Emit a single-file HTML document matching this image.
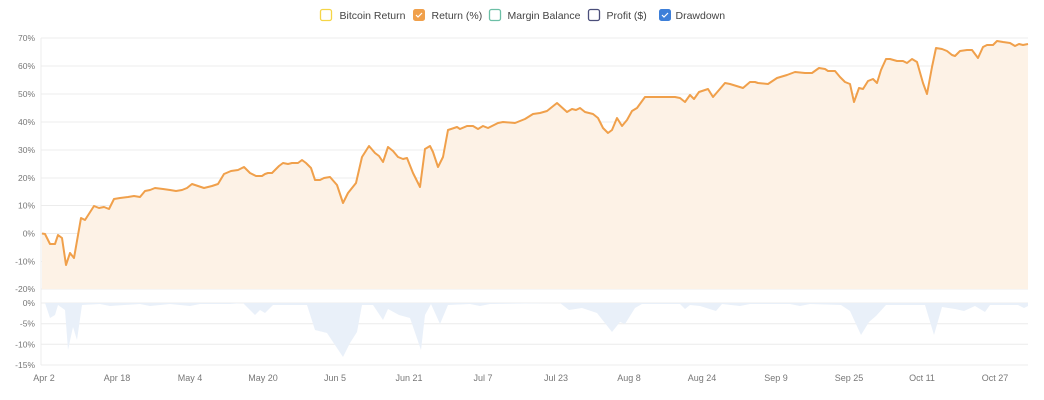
<!DOCTYPE html>
<html><head><meta charset="utf-8"><style>
body{margin:0;background:#fff;}
svg{display:block;font-family:"Liberation Sans",sans-serif;}
</style></head><body>
<svg width="1044" height="400" viewBox="0 0 1044 400">
<!-- legend -->
<g font-size="10.5" fill="#444">
<rect x="320.5" y="9.5" width="11" height="11" rx="2" fill="#fff" stroke="#f5d547" stroke-width="1.3"/>
<text x="339.5" y="19">Bitcoin Return</text>
<rect x="413.5" y="9.5" width="11" height="11" rx="2" fill="#f0a04b" stroke="#f0a04b"/>
<path d="M416 15l2 2 4-4" stroke="#fff" stroke-width="1.2" fill="none"/>
<text x="431.5" y="19">Return (%)</text>
<rect x="489.5" y="9.5" width="11" height="11" rx="2" fill="#fff" stroke="#6cbfa6" stroke-width="1.3"/>
<text x="507.5" y="19">Margin Balance</text>
<rect x="588.5" y="9.5" width="11" height="11" rx="2" fill="#fff" stroke="#4a4e7a" stroke-width="1.3"/>
<text x="606.5" y="19">Profit ($)</text>
<rect x="659.5" y="9.5" width="11" height="11" rx="2" fill="#3d7fd9" stroke="#3d7fd9"/>
<path d="M662 15l2 2 4-4" stroke="#fff" stroke-width="1.2" fill="none"/>
<text x="675.5" y="19">Drawdown</text>
</g>
<!-- grids -->
<g stroke="#ececec" stroke-width="1">
<line x1="41" x2="1028" y1="38" y2="38"/><line x1="41" x2="1028" y1="66" y2="66"/>
<line x1="41" x2="1028" y1="94" y2="94"/><line x1="41" x2="1028" y1="122" y2="122"/>
<line x1="41" x2="1028" y1="150" y2="150"/><line x1="41" x2="1028" y1="178" y2="178"/>
<line x1="41" x2="1028" y1="205.5" y2="205.5"/><line x1="41" x2="1028" y1="233.5" y2="233.5"/>
<line x1="41" x2="1028" y1="261.5" y2="261.5"/><line x1="41" x2="1028" y1="289" y2="289"/>
<line x1="41" x2="1028" y1="303" y2="303"/><line x1="41" x2="1028" y1="323.7" y2="323.7"/>
<line x1="41" x2="1028" y1="344.3" y2="344.3"/><line x1="41" x2="1028" y1="365" y2="365"/>
<line x1="41" x2="41" y1="38" y2="365"/>
</g>
<g font-size="8.5" fill="#777" text-anchor="end">
<text x="35" y="41">70%</text><text x="35" y="69">60%</text><text x="35" y="97">50%</text>
<text x="35" y="125">40%</text><text x="35" y="153">30%</text><text x="35" y="181">20%</text>
<text x="35" y="208.5">10%</text><text x="35" y="236.5">0%</text><text x="35" y="264.5">-10%</text>
<text x="35" y="292">-20%</text>
<text x="35" y="306">0%</text><text x="35" y="326.7">-5%</text><text x="35" y="347.3">-10%</text><text x="35" y="368">-15%</text>
</g>
<g font-size="9" fill="#777" text-anchor="middle">
<text x="44" y="381">Apr 2</text><text x="117" y="381">Apr 18</text><text x="190" y="381">May 4</text>
<text x="263" y="381">May 20</text><text x="335" y="381">Jun 5</text><text x="409" y="381">Jun 21</text>
<text x="483" y="381">Jul 7</text><text x="556" y="381">Jul 23</text><text x="629" y="381">Aug 8</text>
<text x="702" y="381">Aug 24</text><text x="776" y="381">Sep 9</text><text x="849" y="381">Sep 25</text>
<text x="922" y="381">Oct 11</text><text x="995" y="381">Oct 27</text>
</g>
<!-- drawdown -->
<path fill="#e9f0f9" d="M42 303 L45 303 L50 318 L55 315 L58 305 L65 310 L68 350 L73 327 L77 340 L82 305 L100 304 L110 306 L140 304 L150 306 L170 304 L190 306 L200 304 L230 304 L243 303 L255 315 L260 310 L265 313 L273 305 L307 305 L315 330 L327 333 L343 357 L350 343 L357 332 L362 305 L373 305 L383 320 L388 309 L399 315 L410 318 L421 350 L425 315 L431 304 L440 324 L448 305 L470 304 L480 306 L490 304 L560 303 L569 310 L582 308 L597 313 L612 332 L620 322 L625 324 L635 308 L642 304 L680 304 L685 309 L690 305 L700 306 L716 311 L722 304 L740 306 L750 304 L790 304 L800 306 L810 304 L841 305 L850 311 L861 335 L869 322 L876 316 L886 305 L925 305 L934 335 L942 307 L955 309 L964 311 L975 306 L985 312 L990 305 L1018 305 L1024 308 L1028 306 L1028 303 Z"/>
<!-- return area -->
<path fill="#fdf2e6" stroke="none" d="M42 233.5 L45 234 L50 244 L55 244 L58 235 L62 238 L66 265 L70 253 L74 258 L81 218 L85 220 L94 206 L99 208 L104 207 L109 209 L114 199 L120 198 L128 197 L134 196 L140 197 L145 191 L150 190 L155 188 L163 189 L170 190 L176 191 L182 190 L187 188 L192 184 L198 186 L204 188 L212 186 L218 184 L224 174 L231 171 L238 170 L244 167 L250 173 L256 176 L262 176 L265 174 L268 173 L272 173 L279 166 L283 163 L288 164 L292 163 L298 163 L302 160 L306 163 L311 168 L315 180 L320 180 L324 178 L330 177 L337 185 L343 203 L348 193 L356 183 L362 157 L369 146 L375 153 L379 156 L383 162 L388 147 L393 151 L398 157 L403 159 L407 158 L413 173 L420 187 L425 149 L430 146 L433 152 L438 167 L443 157 L448 130 L457 127 L460 129 L467 126 L473 126 L478 129 L483 126 L488 128 L498 123 L503 122 L515 123 L525 119 L533 114 L540 113 L547 111 L557 103 L567 112 L572 109 L576 110 L580 108 L585 112 L593 114 L598 118 L603 128 L608 133 L612 130 L617 118 L622 126 L627 120 L632 111 L637 108 L645 97 L675 97 L680 98 L685 102 L690 95 L694 99 L699 92 L708 89 L713 97 L725 83 L730 84 L743 88 L750 82 L755 82 L758 83 L768 84 L777 78 L787 75 L795 72 L805 73 L812 73 L819 68 L825 69 L828 71 L835 71 L840 77 L845 82 L850 84 L854 102 L859 88 L863 89 L868 81 L873 79 L877 83 L881 70 L886 59 L890 59 L897 61 L903 61 L907 63 L912 59 L917 62 L923 83 L927 94 L932 67 L936 48 L942 49 L947 51 L952 55 L955 56 L960 51 L967 50 L972 50 L978 58 L983 47 L987 45 L993 45 L997 41 L1003 42 L1010 43 L1015 46 L1019 44 L1023 45 L1028 44 L1028 289 L42 289 Z"/>
<path fill="none" stroke="#f0a04b" stroke-width="2" stroke-linejoin="round" d="M42 233.5 L45 234 L50 244 L55 244 L58 235 L62 238 L66 265 L70 253 L74 258 L81 218 L85 220 L94 206 L99 208 L104 207 L109 209 L114 199 L120 198 L128 197 L134 196 L140 197 L145 191 L150 190 L155 188 L163 189 L170 190 L176 191 L182 190 L187 188 L192 184 L198 186 L204 188 L212 186 L218 184 L224 174 L231 171 L238 170 L244 167 L250 173 L256 176 L262 176 L265 174 L268 173 L272 173 L279 166 L283 163 L288 164 L292 163 L298 163 L302 160 L306 163 L311 168 L315 180 L320 180 L324 178 L330 177 L337 185 L343 203 L348 193 L356 183 L362 157 L369 146 L375 153 L379 156 L383 162 L388 147 L393 151 L398 157 L403 159 L407 158 L413 173 L420 187 L425 149 L430 146 L433 152 L438 167 L443 157 L448 130 L457 127 L460 129 L467 126 L473 126 L478 129 L483 126 L488 128 L498 123 L503 122 L515 123 L525 119 L533 114 L540 113 L547 111 L557 103 L567 112 L572 109 L576 110 L580 108 L585 112 L593 114 L598 118 L603 128 L608 133 L612 130 L617 118 L622 126 L627 120 L632 111 L637 108 L645 97 L675 97 L680 98 L685 102 L690 95 L694 99 L699 92 L708 89 L713 97 L725 83 L730 84 L743 88 L750 82 L755 82 L758 83 L768 84 L777 78 L787 75 L795 72 L805 73 L812 73 L819 68 L825 69 L828 71 L835 71 L840 77 L845 82 L850 84 L854 102 L859 88 L863 89 L868 81 L873 79 L877 83 L881 70 L886 59 L890 59 L897 61 L903 61 L907 63 L912 59 L917 62 L923 83 L927 94 L932 67 L936 48 L942 49 L947 51 L952 55 L955 56 L960 51 L967 50 L972 50 L978 58 L983 47 L987 45 L993 45 L997 41 L1003 42 L1010 43 L1015 46 L1019 44 L1023 45 L1028 44"/>
</svg>
</body></html>
